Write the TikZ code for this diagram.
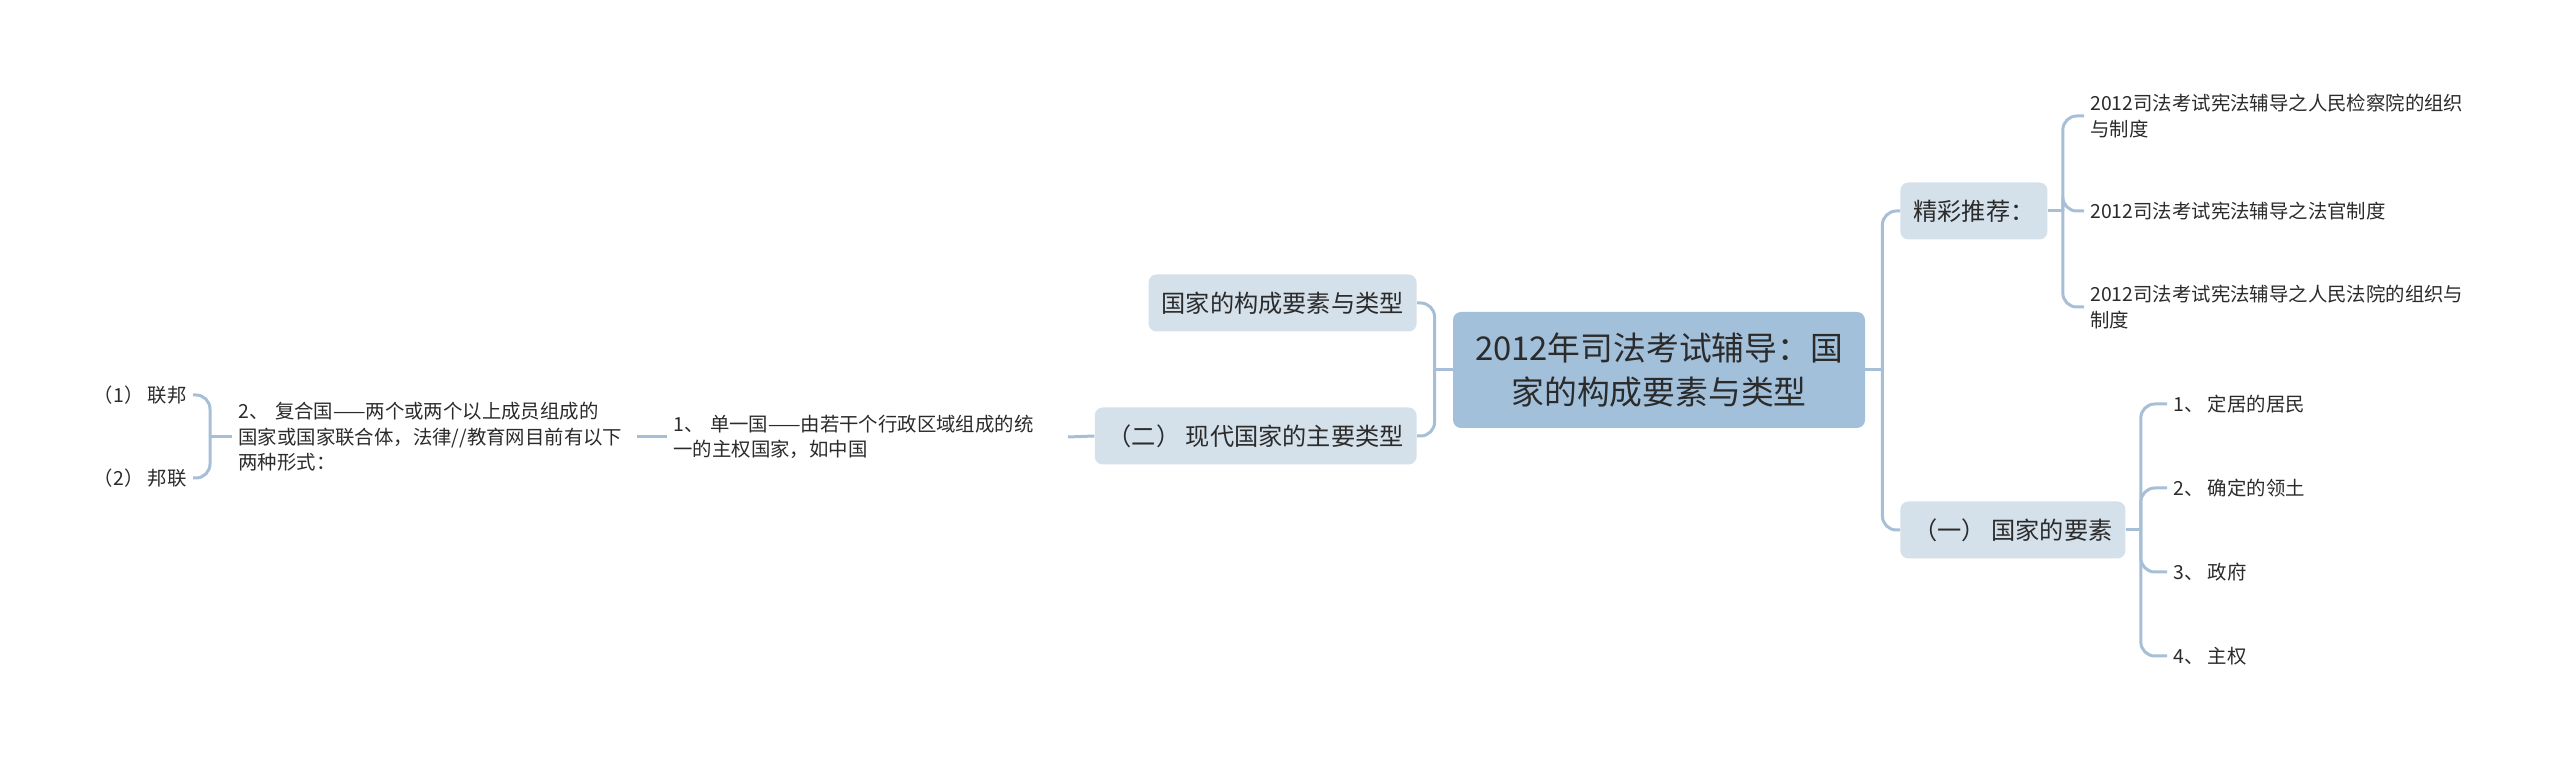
\documentclass[tikz,border=0pt]{standalone}
\usepackage{fontspec}
\setmainfont{Noto Sans CJK SC}
\usepackage{xcolor}
\usepackage{tikz}
\definecolor{raiz}{HTML}{A3C0DB}
\definecolor{rama}{HTML}{D4E0EA}
\definecolor{linea}{HTML}{A6BFD6}
\definecolor{texto}{HTML}{2B2B2B}

\begin{document}
\begin{tikzpicture}[x=0.5pt, y=-0.5pt,
    raizbox/.style={fill=raiz, rounded corners=4pt, align=center, minimum width=206pt, minimum height=58pt, font=\fontsize{16.4}{22}\selectfont, text=texto},
    ramabox/.style={fill=rama, rounded corners=4pt, minimum height=28.5pt, inner xsep=6.5pt, font=\fontsize{12.1}{15}\selectfont, text=texto},
    hoja/.style={inner xsep=3pt, inner ysep=1pt, align=left, font=\fontsize{9.7}{12.8}\selectfont, text=texto},
    enlace/.style={draw=linea, line width=1.5pt, rounded corners=7pt}]
    \useasboundingbox (0,0) rectangle (2560,758);

    % Nodo central
    \node[raizbox] (raiz) at (1659,370) {2012年司法考试辅导：国\\家的构成要素与类型};

    % Ramas de la izquierda
    \node[ramabox, anchor=east] (tipos) at (1417,303) {国家的构成要素与类型};
    \node[ramabox, anchor=east] (moderno) at (1417,436) {（二） 现代国家的主要类型};
    \node[hoja, anchor=west, text width=194pt] (unitario) at (667,437) {1、 单一国——由若干个行政区域组成的统\\一的主权国家，如中国};
    \node[hoja, anchor=west, text width=196pt] (compuesto) at (232,437) {2、 复合国——两个或两个以上成员组成的\\国家或国家联合体，法律//教育网目前有以下\\两种形式：};
    \node[hoja, anchor=east] (fed) at (193,395) {（1） 联邦};
    \node[hoja, anchor=east] (conf) at (193,478) {（2） 邦联};

    % Ramas de la derecha
    \node[ramabox, anchor=west] (recom) at (1900,211) {精彩推荐：};
    \node[ramabox, anchor=west] (elem) at (1900,530) {（一） 国家的要素};
    \node[hoja, anchor=west] (r1) at (2084,116) {2012司法考试宪法辅导之人民检察院的组织\\与制度};
    \node[hoja, anchor=west] (r2) at (2084,211) {2012司法考试宪法辅导之法官制度};
    \node[hoja, anchor=west] (r3) at (2084,307) {2012司法考试宪法辅导之人民法院的组织与\\制度};
    \node[hoja, anchor=west] (e1) at (2167,404) {1、 定居的居民};
    \node[hoja, anchor=west] (e2) at (2167,488) {2、 确定的领土};
    \node[hoja, anchor=west] (e3) at (2167,572) {3、 政府};
    \node[hoja, anchor=west] (e4) at (2167,656) {4、 主权};

    % Conectores de la izquierda
    \draw[enlace] (raiz.west) -- ++(-18,0) coordinate (ti);
    \draw[enlace] (ti) |- (tipos.east);
    \draw[enlace] (ti) |- (moderno.east);
    \draw[enlace] (moderno.west) -- (unitario.east);
    \draw[enlace] (unitario.west) -- (compuesto.east);
    \draw[enlace] (compuesto.west) -- ++(-22,0) coordinate (tc);
    \draw[enlace] (tc) |- (fed.east);
    \draw[enlace] (tc) |- (conf.east);

    % Conectores de la derecha
    \draw[enlace] (raiz.east) -- ++(17,0) coordinate (td);
    \draw[enlace] (td) |- (recom.west);
    \draw[enlace] (td) |- (elem.west);
    \draw[enlace] (recom.east) -- ++(15,0) coordinate (tr);
    \draw[enlace] (tr) |- (r1.west);
    \draw[enlace] (tr) |- (r2.west);
    \draw[enlace] (tr) |- (r3.west);
    \draw[enlace] (elem.east) -- ++(15,0) coordinate (te);
    \draw[enlace] (te) |- (e1.west);
    \draw[enlace] (te) |- (e2.west);
    \draw[enlace] (te) |- (e3.west);
    \draw[enlace] (te) |- (e4.west);

\end{tikzpicture}
\end{document}
